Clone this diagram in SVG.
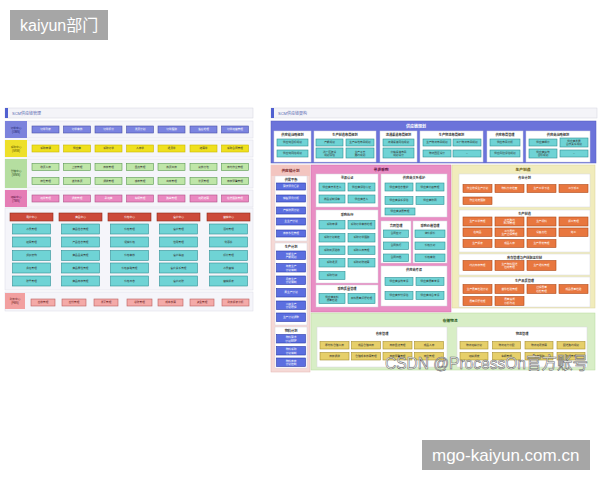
<svg xmlns="http://www.w3.org/2000/svg" width="600" height="480" viewBox="0 0 600 480">
<style>
text{font-family:"Liberation Sans","Noto Sans CJK SC",sans-serif}
.s{font-size:2.7px;text-anchor:middle;dominant-baseline:central}
.h{font-size:3.2px;font-weight:bold;text-anchor:middle;dominant-baseline:central;fill:#333}
.w{fill:#fff}.d{fill:#333}
.bg{fill:#f5f5fa;stroke:#dcdce6;stroke-width:0.5}
.bar{fill:#f4f4f8;stroke:#d4d4de;stroke-width:0.5}
.ob{fill:#7b84e0;stroke:#4a52a8;stroke-width:0.6}
.yb{fill:#efe01e;stroke:#c8b800;stroke-width:0.6}
.gb{fill:#bfe6a8;stroke:#5a9a50;stroke-width:0.6}
.pb{fill:#ea88c0;stroke:#b05088;stroke-width:0.6}
.rh{fill:#cc4a3a;stroke:#902818;stroke-width:0.6}
.tc{fill:#6fd3d5;stroke:#2f8f95;stroke-width:0.6}
.sb{fill:#f4aaa8;stroke:#b86060;stroke-width:0.6}
.bl{fill:#5b6ee0;stroke:#2b3aa8;stroke-width:0.6}
.or{fill:#e8773f;stroke:#b04a18;stroke-width:0.6}
.gd{fill:#e6cf6a;stroke:#a89030;stroke-width:0.6}
.wp{fill:#fff;stroke:#d6d6e0;stroke-width:0.5}
</style>
<rect width="600" height="480" fill="#fff"/>

<g id="hdr"><rect x="10" y="10" width="98" height="30" fill="#a6a6a6"/><text x="20" y="31" font-size="16" fill="#fff">kaiyun部门</text></g>
<g id="ftr"><rect x="422" y="440" width="168" height="30" fill="#a6a6a6"/><text x="432" y="461" font-size="17" fill="#fff">mgo-kaiyun.com.cn</text></g>

<!-- LEFT PANEL -->
<g id="left">
<rect class="bar" x="5" y="108" width="248" height="10"/><rect x="5" y="108" width="3" height="10" fill="#5060d0"/>
<text x="12" y="113" font-size="4" fill="#5866b0" dominant-baseline="central">SCM供应链管理</text>

<g id="oms">
<rect class="bg" x="5" y="121" width="248" height="17"/>
<rect x="5" y="121" width="22" height="17" fill="#7b82dc"/>
<text class="s" fill="#1a1a60"><tspan x="16" y="127.5">订单中心</tspan><tspan x="16" y="131.5">(OMS)</tspan></text>
<rect class="ob" x="32" y="126" width="27" height="7"/><text class="s w" x="45.5" y="129.5">订单列表</text>
<rect class="ob" x="63.5" y="126" width="27" height="7"/><text class="s w" x="77" y="129.5">订单审核</text>
<rect class="ob" x="95" y="126" width="27" height="7"/><text class="s w" x="108.5" y="129.5">订单拆分</text>
<rect class="ob" x="126.5" y="126" width="27" height="7"/><text class="s w" x="140" y="129.5">发货计划</text>
<rect class="ob" x="158" y="126" width="27" height="7"/><text class="s w" x="171.5" y="129.5">订单跟踪</text>
<rect class="ob" x="190" y="126" width="27" height="7"/><text class="s w" x="203.5" y="129.5">售后处理</text>
<rect class="ob" x="221.5" y="126" width="27" height="7"/><text class="s w" x="235" y="129.5">订单运营管理</text>
</g>

<g id="srm">
<rect class="bg" x="5" y="140" width="248" height="17"/>
<rect x="5" y="140" width="22" height="17" fill="#eee02a"/>
<text class="s" fill="#554d00"><tspan x="16" y="146.5">采购中心</tspan><tspan x="16" y="150.5">(SRM)</tspan></text>
<rect class="yb" x="32" y="145" width="27" height="7"/><text class="s d" x="45.5" y="148.5">采购申请</text>
<rect class="yb" x="63.5" y="145" width="27" height="7"/><text class="s d" x="77" y="148.5">供应商</text>
<rect class="yb" x="95" y="145" width="27" height="7"/><text class="s d" x="108.5" y="148.5">采购订单</text>
<rect class="yb" x="126.5" y="145" width="27" height="7"/><text class="s d" x="140" y="148.5">入库单</text>
<rect class="yb" x="158" y="145" width="27" height="7"/><text class="s d" x="171.5" y="148.5">退货单</text>
<rect class="yb" x="190" y="145" width="27" height="7"/><text class="s d" x="203.5" y="148.5">结算单</text>
<rect class="yb" x="221.5" y="145" width="27" height="7"/><text class="s d" x="235" y="148.5">采购合同管理</text>
</g>

<g id="wms">
<rect class="bg" x="5" y="159" width="248" height="29"/>
<rect x="5" y="159" width="22" height="29" fill="#b5dea0"/>
<text class="s" fill="#2a4a20"><tspan x="16" y="171">仓储中心</tspan><tspan x="16" y="175">(WMS)</tspan></text>
<rect class="gb" x="32" y="163.5" width="27" height="7"/><text class="s d" x="45.5" y="167">收货入库</text>
<rect class="gb" x="63.5" y="163.5" width="27" height="7"/><text class="s d" x="77" y="167">上架管理</text>
<rect class="gb" x="95" y="163.5" width="27" height="7"/><text class="s d" x="108.5" y="167">库存管理</text>
<rect class="gb" x="126.5" y="163.5" width="27" height="7"/><text class="s d" x="140" y="167">盘点管理</text>
<rect class="gb" x="158" y="163.5" width="27" height="7"/><text class="s d" x="171.5" y="167">拣货出库</text>
<rect class="gb" x="190" y="163.5" width="27" height="7"/><text class="s d" x="203.5" y="167">复核打包</text>
<rect class="gb" x="221.5" y="163.5" width="27" height="7"/><text class="s d" x="235" y="167">库内作业管理</text>
<rect class="gb" x="32" y="177.5" width="27" height="7"/><text class="s d" x="45.5" y="181">库位管理</text>
<rect class="gb" x="63.5" y="177.5" width="27" height="7"/><text class="s d" x="77" y="181">波次拣货</text>
<rect class="gb" x="95" y="177.5" width="27" height="7"/><text class="s d" x="108.5" y="181">调拨管理</text>
<rect class="gb" x="126.5" y="177.5" width="27" height="7"/><text class="s d" x="140" y="181">移库管理</text>
<rect class="gb" x="158" y="177.5" width="27" height="7"/><text class="s d" x="171.5" y="181">出库管理</text>
<rect class="gb" x="190" y="177.5" width="27" height="7"/><text class="s d" x="203.5" y="181">补货管理</text>
<rect class="gb" x="221.5" y="177.5" width="27" height="7"/><text class="s d" x="235" y="181">库存预警管理</text>
</g>

<g id="tms">
<rect class="bg" x="5" y="190" width="248" height="17"/>
<rect x="5" y="190" width="22" height="17" fill="#e57db5"/>
<text class="s" fill="#5a1040"><tspan x="16" y="196.5">运输中心</tspan><tspan x="16" y="200.5">(TMS)</tspan></text>
<rect class="pb" x="32" y="195" width="27" height="7"/><text class="s w" x="45.5" y="198.5">运单管理</text>
<rect class="pb" x="63.5" y="195" width="27" height="7"/><text class="s w" x="77" y="198.5">调度管理</text>
<rect class="pb" x="95" y="195" width="27" height="7"/><text class="s w" x="108.5" y="198.5">承运商</text>
<rect class="pb" x="126.5" y="195" width="27" height="7"/><text class="s w" x="140" y="198.5">车辆管理</text>
<rect class="pb" x="158" y="195" width="27" height="7"/><text class="s w" x="171.5" y="198.5">路由管理</text>
<rect class="pb" x="190" y="195" width="27" height="7"/><text class="s w" x="203.5" y="198.5">运费结算</text>
<rect class="pb" x="221.5" y="195" width="27" height="7"/><text class="s w" x="235" y="198.5">在途跟踪管理</text>
</g>

<g id="centers">
<rect class="bg" x="5" y="208" width="248" height="82"/>
<g id="c1">
<rect class="rh" x="10" y="213" width="43" height="8"/><text class="s w" x="31.5" y="217">用户中心</text>
<rect class="tc" x="12.5" y="224" width="38" height="10"/><text class="s d" x="31.5" y="229">会员管理</text>
<rect class="tc" x="12.5" y="237" width="38" height="10"/><text class="s d" x="31.5" y="242">权限管理</text>
<rect class="tc" x="12.5" y="250.5" width="38" height="10"/><text class="s d" x="31.5" y="255.5">组织架构</text>
<rect class="tc" x="12.5" y="263" width="38" height="10"/><text class="s d" x="31.5" y="268">角色管理</text>
<rect class="tc" x="12.5" y="276" width="38" height="10"/><text class="s d" x="31.5" y="281">账号管理</text>
</g>
<g id="c2">
<rect class="rh" x="59" y="213" width="43" height="8"/><text class="s w" x="80.5" y="217">商品中心</text>
<rect class="tc" x="61.5" y="224" width="38" height="10"/><text class="s d" x="80.5" y="229">商品信息管理</text>
<rect class="tc" x="61.5" y="237" width="38" height="10"/><text class="s d" x="80.5" y="242">产品信息管理</text>
<rect class="tc" x="61.5" y="250.5" width="38" height="10"/><text class="s d" x="80.5" y="255.5">商品品类管理</text>
<rect class="tc" x="61.5" y="263" width="38" height="10"/><text class="s d" x="80.5" y="268">商品属性管理</text>
<rect class="tc" x="61.5" y="276" width="38" height="10"/><text class="s d" x="80.5" y="281">商品库存管理</text>
</g>
<g id="c3">
<rect class="rh" x="108" y="213" width="43" height="8"/><text class="s w" x="129.5" y="217">价格中心</text>
<rect class="tc" x="110.5" y="224" width="38" height="10"/><text class="s d" x="129.5" y="229">价格管理</text>
<rect class="tc" x="110.5" y="237" width="38" height="10"/><text class="s d" x="129.5" y="242">促销价格</text>
<rect class="tc" x="110.5" y="250.5" width="38" height="10"/><text class="s d" x="129.5" y="255.5">价格审核</text>
<rect class="tc" x="110.5" y="263" width="38" height="10"/><text class="s d" x="129.5" y="268">价格策略管理</text>
<rect class="tc" x="110.5" y="276" width="38" height="10"/><text class="s d" x="129.5" y="281">价格日志</text>
</g>
<g id="c4">
<rect class="rh" x="157" y="213" width="43" height="8"/><text class="s w" x="178.5" y="217">客户中心</text>
<rect class="tc" x="159.5" y="224" width="38" height="10"/><text class="s d" x="178.5" y="229">客户管理</text>
<rect class="tc" x="159.5" y="237" width="38" height="10"/><text class="s d" x="178.5" y="242">信用管理</text>
<rect class="tc" x="159.5" y="250.5" width="38" height="10"/><text class="s d" x="178.5" y="255.5">客户等级</text>
<rect class="tc" x="159.5" y="263" width="38" height="10"/><text class="s d" x="178.5" y="268">客户关系管理</text>
<rect class="tc" x="159.5" y="276" width="38" height="10"/><text class="s d" x="178.5" y="281">客户对账</text>
</g>
<g id="c5">
<rect class="rh" x="207" y="213" width="43" height="8"/><text class="s w" x="228.5" y="217">营销中心</text>
<rect class="tc" x="209.5" y="224" width="38" height="10"/><text class="s d" x="228.5" y="229">活动管理</text>
<rect class="tc" x="209.5" y="237" width="38" height="10"/><text class="s d" x="228.5" y="242">优惠券</text>
<rect class="tc" x="209.5" y="250.5" width="38" height="10"/><text class="s d" x="228.5" y="255.5">积分管理</text>
<rect class="tc" x="209.5" y="263" width="38" height="10"/><text class="s d" x="228.5" y="268">会员营销</text>
<rect class="tc" x="209.5" y="276" width="38" height="10"/><text class="s d" x="228.5" y="281">营销报表</text>
</g>
</g>

<g id="fms">
<rect class="bg" x="5" y="292" width="248" height="19"/>
<rect x="5" y="293" width="20" height="16" fill="#f2a0a0"/>
<text class="s" fill="#6a2020"><tspan x="15" y="299">财务中心</tspan><tspan x="15" y="303">(FMS)</tspan></text>
<rect class="sb" x="31" y="299" width="24" height="7"/><text class="s" fill="#6a2020" x="43" y="302.5">应收管理</text>
<rect class="sb" x="62" y="299" width="24" height="7"/><text class="s" fill="#6a2020" x="74" y="302.5">应付管理</text>
<rect class="sb" x="94" y="299" width="24" height="7"/><text class="s" fill="#6a2020" x="106" y="302.5">发票管理</text>
<rect class="sb" x="127" y="299" width="25" height="7"/><text class="s" fill="#6a2020" x="139.5" y="302.5">总账管理</text>
<rect class="sb" x="158" y="299" width="25" height="7"/><text class="s" fill="#6a2020" x="170.5" y="302.5">成本核算</text>
<rect class="sb" x="190" y="299" width="24" height="7"/><text class="s" fill="#6a2020" x="202" y="302.5">资金管理</text>
<rect class="sb" x="222" y="299" width="27" height="7"/><text class="s" fill="#6a2020" x="235.5" y="302.5">财务报表分析</text>
</g>
</g>

<!-- RIGHT PANEL -->
<g id="right">
<rect class="bar" x="271" y="108" width="326" height="10"/><rect x="271" y="108" width="3" height="10" fill="#5060d0"/>
<text x="278" y="113" font-size="4" fill="#5866b0" dominant-baseline="central">SCM供应链架构</text>

<g id="plan">
<rect x="271" y="121" width="325" height="42" fill="#6b73da" stroke="#5058c0" stroke-width="0.5"/>
<text class="h w" x="416" y="126.3" style="font-size:4px">供应链规划</text>
<g id="p1">
<rect class="wp" x="274" y="131" width="37" height="31"/><text class="h" x="292.5" y="134.8">供应链战略规划</text>
<rect class="tc" x="277" y="139" width="31" height="7"/><text class="s d" x="292.5" y="142.5">供应链目标规划</text>
<rect class="tc" x="277" y="150" width="31" height="7"/><text class="s d" x="292.5" y="153.5">供应链网络规划</text>
</g>
<g id="p2">
<rect class="wp" x="314" y="131" width="62" height="31"/><text class="h" x="345" y="134.8">生产制造布局规划</text>
<rect class="tc" x="316" y="139" width="27" height="7"/><text class="s d" x="329.5" y="142.5">产能规划</text>
<rect class="tc" x="346" y="139" width="28" height="7"/><text class="s d" x="360" y="142.5">生产基地布局规划</text>
<rect class="tc" x="316" y="148" width="27" height="10"/><text class="s d"><tspan x="329.5" y="151.5">新厂区建设</tspan><tspan x="329.5" y="154.7">规划评估</tspan></text>
<rect class="tc" x="346" y="148" width="28" height="10"/><text class="s d"><tspan x="360" y="151.5">生产工艺</tspan><tspan x="360" y="154.7">路线规划</tspan></text>
</g>
<g id="p3">
<rect class="wp" x="380" y="131" width="37" height="31"/><text class="h" x="398.5" y="134.8">流通渠道布局规划</text>
<rect class="tc" x="383" y="139" width="31" height="7"/><text class="s d" x="398.5" y="142.5">流通渠道网络规划</text>
<rect class="tc" x="383" y="148" width="31" height="10"/><text class="s d"><tspan x="398.5" y="151.5">分销渠道布局</tspan><tspan x="398.5" y="154.7">规划设计</tspan></text>
</g>
<g id="p4">
<rect class="wp" x="420" y="131" width="63" height="31"/><text class="h" x="451.5" y="134.8">生产物流布局规划</text>
<rect class="tc" x="423" y="139" width="28" height="7"/><text class="s d" x="437" y="142.5">生产物流布局规划</text>
<rect class="tc" x="453" y="139" width="28" height="7"/><text class="s d" x="467" y="142.5">工厂物流布局规划</text>
<rect class="tc" x="423" y="150" width="28" height="7"/><text class="s d" x="437" y="153.5">物流园区设计</text>
<rect class="tc" x="453" y="150" width="28" height="7"/><text class="s d" x="467" y="153.5">...</text>
</g>
<g id="p5">
<rect class="wp" x="487" y="131" width="36" height="31"/><text class="h" x="505" y="134.8">供应布局管理</text>
<rect class="tc" x="490" y="139" width="30" height="7"/><text class="s d" x="505" y="142.5">供应布局分析</text>
<rect class="tc" x="490" y="150" width="30" height="7"/><text class="s d" x="505" y="153.5">供应风险评估规划</text>
</g>
<g id="p6">
<rect class="wp" x="526" y="131" width="64" height="31"/><text class="h" x="558" y="134.8">供应商战略规划</text>
<rect class="tc" x="529" y="139" width="28" height="7"/><text class="s d" x="543" y="142.5">供应商细分</text>
<rect class="tc" x="560" y="138" width="28" height="9"/><text class="s d"><tspan x="574" y="141">供应商发展</tspan><tspan x="574" y="144.2">合作关系规划</tspan></text>
<rect class="tc" x="529" y="149" width="28" height="9"/><text class="s d"><tspan x="543" y="152">供应商绩效</tspan><tspan x="543" y="155.2">目标规划</tspan></text>
<rect class="tc" x="560" y="150" width="28" height="7"/><text class="s d" x="574" y="153.5">...</text>
</g>
</g>

<g id="scp">
<rect x="271" y="165" width="39" height="207" fill="#f5d9d6" stroke="#e4b4b0" stroke-width="0.5"/>
<rect x="271" y="165" width="39" height="11" fill="#f3c5c0"/>
<text class="h" x="290.5" y="170.5" fill="#7a2a2a" style="font-size:3.6px;fill:#7a2a2a">供应链计划</text>
<g id="sop">
<rect class="wp" x="275" y="176" width="32" height="65"/><text class="h" x="291" y="180">供需平衡</text>
<rect class="bl" x="276.5" y="183" width="29" height="7"/><text class="s w" x="291" y="186.5">需求预测汇总</text>
<rect class="bl" x="276.5" y="195" width="29" height="7"/><text class="s w" x="291" y="198.5">销售预测分析</text>
<rect class="bl" x="276.5" y="207" width="29" height="7"/><text class="s w" x="291" y="210.5">产销协同计划</text>
<rect class="bl" x="276.5" y="218" width="29" height="7"/><text class="s w" x="291" y="221.5">主生产计划</text>
<rect class="bl" x="276.5" y="230" width="29" height="7"/><text class="s w" x="291" y="233.5">库存水位管理</text>
</g>
<g id="pp">
<rect class="wp" x="275" y="243" width="32" height="82"/><text class="h" x="291" y="247">生产计划</text>
<rect class="bl" x="276.5" y="251" width="29" height="8.5"/><text class="s w"><tspan x="291" y="253.8">长期生产</tspan><tspan x="291" y="257">产能规划</tspan></text>
<rect class="bl" x="276.5" y="263.5" width="29" height="8.5"/><text class="s w"><tspan x="291" y="266.3">年度生产</tspan><tspan x="291" y="269.5">计划编制</tspan></text>
<rect class="bl" x="276.5" y="276" width="29" height="8.5"/><text class="s w"><tspan x="291" y="278.8">月度生产</tspan><tspan x="291" y="282">计划编制</tspan></text>
<rect class="bl" x="276.5" y="288.5" width="29" height="8.5"/><text class="s w" x="291" y="292.75">周生产计划</text>
<rect class="bl" x="276.5" y="301" width="29" height="8.5"/><text class="s w"><tspan x="291" y="303.8">二级生产</tspan><tspan x="291" y="307">计划排程</tspan></text>
<rect class="bl" x="276.5" y="313" width="29" height="8.5"/><text class="s w" x="291" y="317.25">生产计划调整</text>
</g>
<g id="mp">
<rect class="wp" x="275" y="327" width="32" height="41"/><text class="h" x="291" y="331">物料计划</text>
<rect class="bl" x="276.5" y="334.5" width="29" height="8.5"/><text class="s w"><tspan x="291" y="337.3">物料需求</tspan><tspan x="291" y="340.5">计划MRP</tspan></text>
<rect class="bl" x="276.5" y="346.5" width="29" height="8.5"/><text class="s w"><tspan x="291" y="349.3">物料采购</tspan><tspan x="291" y="352.5">计划编制</tspan></text>
<rect class="bl" x="276.5" y="358" width="29" height="8.5"/><text class="s w"><tspan x="291" y="360.8">物料库存</tspan><tspan x="291" y="364">计划控制</tspan></text>
</g>
</g>

<g id="sourcing">
<rect x="311" y="165" width="140" height="147" fill="#e98ec4" stroke="#d06aa8" stroke-width="0.5"/>
<text class="h" x="381" y="170" style="font-size:3.8px;fill:#5a1040">寻源采购</text>
<g id="s1">
<rect class="wp" x="316" y="174" width="62" height="33"/><text class="h" x="347" y="178">寻源认证</text>
<rect class="tc" x="319" y="183" width="26" height="8"/><text class="s d" x="332" y="187">供应商开发准入</text>
<rect class="tc" x="348" y="183" width="27" height="8"/><text class="s d" x="361.5" y="187">供应商评估认证</text>
<rect class="tc" x="319" y="195" width="26" height="8"/><text class="s d" x="332" y="199">样品试制评审</text>
<rect class="tc" x="348" y="195" width="27" height="8"/><text class="s d" x="361.5" y="199">供应商准入</text>
</g>
<g id="s2">
<rect class="wp" x="381" y="174" width="66" height="43"/><text class="h" x="414" y="178">供应商关系维护</text>
<rect class="tc" x="385" y="183" width="28" height="8"/><text class="s d" x="399" y="187">供应商信息维护</text>
<rect class="tc" x="416" y="183" width="28" height="8"/><text class="s d" x="430" y="187">供应商分级管理</text>
<rect class="tc" x="385" y="196.5" width="28" height="8"/><text class="s d" x="399" y="200.5">供应商关系评估</text>
<rect class="tc" x="416" y="196.5" width="28" height="8"/><text class="s d" x="430" y="200.5">供应商协同</text>
<rect class="tc" x="385" y="208" width="30" height="7"/><text class="s d" x="400" y="211.5">供应商资质管理</text>
</g>
<g id="s3">
<rect class="wp" x="316" y="210" width="62" height="73"/><text class="h" x="347" y="214.5">采购执行</text>
<rect class="tc" x="319" y="220.5" width="26" height="8.5"/><text class="s d" x="332" y="224.75">采购申请</text>
<rect class="tc" x="348" y="220.5" width="27" height="8.5"/><text class="s d" x="361.5" y="224.75">采购订单审核处理</text>
<rect class="tc" x="319" y="233.5" width="26" height="8.5"/><text class="s d" x="332" y="237.75">采购计划制定</text>
<rect class="tc" x="348" y="233.5" width="27" height="8.5"/><text class="s d" x="361.5" y="237.75">采购订单跟踪</text>
<rect class="tc" x="319" y="246" width="26" height="8.5"/><text class="s d" x="332" y="250.25">采购到货验收</text>
<rect class="tc" x="348" y="246" width="27" height="8.5"/><text class="s d" x="361.5" y="250.25">采购入库管理</text>
<rect class="tc" x="319" y="258.5" width="26" height="8.5"/><text class="s d" x="332" y="262.75">采购退货</text>
<rect class="tc" x="348" y="258.5" width="27" height="8.5"/><text class="s d" x="361.5" y="262.75">采购对账结算</text>
<rect class="tc" x="319" y="271.5" width="26" height="8"/><text class="s d" x="332" y="275.5">采购付款</text>
</g>
<g id="s4">
<rect class="wp" x="316" y="285" width="62" height="22"/><text class="h" x="347" y="289">采购质量管理</text>
<rect class="tc" x="319" y="293.5" width="26" height="10"/><text class="s d"><tspan x="332" y="297">供应商来料</tspan><tspan x="332" y="300.2">质量检验</tspan></text>
<rect class="tc" x="348" y="293.5" width="27" height="10"/><text class="s d" x="361.5" y="298.5">来料质量问题处理</text>
</g>
<g id="s5">
<rect class="wp" x="381" y="221" width="30" height="42"/><text class="h" x="396" y="225.5">合同管理</text>
<rect class="tc" x="383.5" y="230" width="25" height="7.5"/><text class="s d" x="396" y="233.75">合同签订</text>
<rect class="tc" x="383.5" y="242" width="25" height="7.5"/><text class="s d" x="396" y="245.75">合同执行</text>
<rect class="tc" x="383.5" y="254" width="25" height="7.5"/><text class="s d" x="396" y="257.75">合同归档</text>
</g>
<g id="s6">
<rect class="wp" x="413" y="221" width="34" height="42"/><text class="h" x="430" y="225.5">采购价格管理</text>
<rect class="tc" x="415" y="230" width="30" height="7.5"/><text class="s d" x="430" y="233.75">询价报价</text>
<rect class="tc" x="415" y="242" width="30" height="7.5"/><text class="s d" x="430" y="245.75">价格比对</text>
<rect class="tc" x="415" y="254" width="30" height="7.5"/><text class="s d" x="430" y="257.75">价格审批</text>
</g>
<g id="s7">
<rect class="wp" x="381" y="266" width="66" height="40"/><text class="h" x="414" y="270">供应商考评</text>
<rect class="tc" x="385" y="277.5" width="28" height="8"/><text class="s d" x="399" y="281.5">供应商绩效考评</text>
<rect class="tc" x="416" y="277.5" width="28" height="8"/><text class="s d" x="430" y="281.5">供应商质量考评</text>
<rect class="tc" x="385" y="291.5" width="28" height="8"/><text class="s d" x="399" y="295.5">供应商交付评估</text>
<rect class="tc" x="416" y="291.5" width="28" height="8"/><text class="s d" x="430" y="295.5">供应商综合考评</text>
</g>
</g>

<g id="mfg">
<rect x="452" y="165" width="143" height="143" fill="#f1ecbc" stroke="#d9d199" stroke-width="0.5"/>
<text class="h" x="523" y="170" style="font-size:3.8px;fill:#6a5a10">生产制造</text>
<g id="m1">
<rect class="wp" x="459" y="174" width="131" height="33"/><text class="h" x="524.5" y="178">作业计划</text>
<rect class="or" x="463" y="184.5" width="29" height="8"/><text class="s w" x="477.5" y="188.5">作业排程生产计划</text>
<rect class="or" x="495" y="184.5" width="29" height="8"/><text class="s w" x="509.5" y="188.5">物料齐套检查</text>
<rect class="or" x="527" y="184.5" width="29" height="8"/><text class="s w" x="541.5" y="188.5">生产工单下达</text>
<rect class="or" x="559" y="184.5" width="29" height="8"/><text class="s w" x="573.5" y="188.5">工序派工</text>
<rect class="or" x="463" y="197" width="29" height="7.5"/><text class="s w" x="477.5" y="200.75">作业进度跟踪</text>
</g>
<g id="m2">
<rect class="wp" x="459" y="210" width="131" height="42"/><text class="h" x="524.5" y="214">生产制造</text>
<rect class="or" x="463" y="217" width="29" height="9"/><text class="s w" x="477.5" y="221.5">生产工单管理</text>
<rect class="or" x="495" y="217" width="29" height="9"/><text class="s w"><tspan x="509.5" y="219.9">工艺路线</tspan><tspan x="509.5" y="223.1">BOM管理</tspan></text>
<rect class="or" x="527" y="217" width="29" height="9"/><text class="s w" x="541.5" y="221.5">生产领料</text>
<rect class="or" x="559" y="217" width="29" height="9"/><text class="s w" x="573.5" y="221.5">报工管理</text>
<rect class="or" x="463" y="228" width="29" height="8.5"/><text class="s w" x="477.5" y="232.25">在制品</text>
<rect class="or" x="495" y="228" width="29" height="8.5"/><text class="s w"><tspan x="509.5" y="230.7">工序质检</tspan><tspan x="509.5" y="233.9">生产过程管理</tspan></text>
<rect class="or" x="527" y="228" width="29" height="8.5"/><text class="s w" x="541.5" y="232.25">设备点检</text>
<rect class="or" x="559" y="228" width="29" height="8.5"/><text class="s w" x="573.5" y="232.25">完工</text>
<rect class="or" x="463" y="239.5" width="29" height="8"/><text class="s w" x="477.5" y="243.5">生产报表</text>
<rect class="or" x="495" y="239.5" width="29" height="8"/><text class="s w" x="509.5" y="243.5">成品入库</text>
<rect class="or" x="527" y="239.5" width="29" height="8"/><text class="s w" x="541.5" y="243.5">生产异常管理</text>
</g>
<g id="m3">
<rect class="wp" x="459" y="254" width="131" height="21"/><text class="h" x="524.5" y="257.5">库存管理与产线配送控制</text>
<rect class="or" x="463" y="260.5" width="29" height="10"/><text class="s w" x="477.5" y="265.5">线边库存管理</text>
<rect class="or" x="495" y="260.5" width="29" height="10"/><text class="s w"><tspan x="509.5" y="263.9">生产物料配送</tspan><tspan x="509.5" y="267.1">拉动管理</tspan></text>
<rect class="or" x="527" y="260.5" width="29" height="10"/><text class="s w" x="541.5" y="265.5">生产退料管理</text>
</g>
<g id="m4">
<rect class="wp" x="459" y="277" width="131" height="30"/><text class="h" x="524.5" y="281">生产品质管理</text>
<rect class="or" x="463" y="284.5" width="29" height="9"/><text class="s w" x="477.5" y="289">生产质量检验计划</text>
<rect class="or" x="495" y="284.5" width="29" height="9"/><text class="s w" x="509.5" y="289">首件检验管理</text>
<rect class="or" x="527" y="284.5" width="29" height="9"/><text class="s w"><tspan x="541.5" y="287.4">过程质量</tspan><tspan x="541.5" y="290.6">巡检管理</tspan></text>
<rect class="or" x="559" y="284.5" width="29" height="9"/><text class="s w" x="573.5" y="289">成品质量检验</text>
<rect class="or" x="463" y="296.5" width="29" height="9"/><text class="s w" x="477.5" y="301">质量问题处理</text>
<rect class="or" x="495" y="296.5" width="29" height="9"/><text class="s w"><tspan x="509.5" y="299.4">质量追溯</tspan><tspan x="509.5" y="302.6">分析改进</tspan></text>
</g>
</g>

<g id="logistics">
<rect x="311" y="313" width="284" height="57" fill="#d8eec6" stroke="#b6d99c" stroke-width="0.5"/>
<text class="h" x="450" y="320.5" style="font-size:3.8px;fill:#2a5a1a">仓储物流</text>
<g id="wh">
<rect class="wp" x="317" y="327" width="130" height="40"/><text class="h" x="382" y="333.5">仓库管理</text>
<rect class="gd" x="320" y="341.5" width="29" height="7.5"/><text class="s d" x="334.5" y="345.25">原材料仓储入库</text>
<rect class="gd" x="351.5" y="341.5" width="29" height="7.5"/><text class="s d" x="366" y="345.25">成品仓储出库</text>
<rect class="gd" x="383" y="341.5" width="29" height="7.5"/><text class="s d" x="397.5" y="345.25">库存盘点管理</text>
<rect class="gd" x="414.5" y="341.5" width="29" height="7.5"/><text class="s d" x="429" y="345.25">成品入库</text>
<rect class="gd" x="320" y="352.5" width="29" height="7.5"/><text class="s d" x="334.5" y="356.25">库存调拨</text>
<rect class="gd" x="351.5" y="352.5" width="29" height="7.5"/><text class="s d" x="366" y="356.25">仓储成本核算管理</text>
<rect class="gd" x="383" y="352.5" width="29" height="7.5"/><text class="s d" x="397.5" y="356.25">库存预警管理</text>
<rect class="gd" x="414.5" y="352.5" width="29" height="7.5"/><text class="s d" x="429" y="356.25">库位管理</text>
</g>
<g id="tr">
<rect class="wp" x="457" y="327" width="130" height="40"/><text class="h" x="522" y="333.5">物流管理</text>
<rect class="gd" x="460" y="341.5" width="28" height="7.5"/><text class="s d" x="474" y="345.25">物流运输计划</text>
<rect class="gd" x="492.5" y="341.5" width="28" height="7.5"/><text class="s d" x="506.5" y="345.25">物流运力分配</text>
<rect class="gd" x="525" y="341.5" width="28" height="7.5"/><text class="s d" x="539" y="345.25">物流运费核算</text>
<rect class="gd" x="557" y="341.5" width="28" height="7.5"/><text class="s d" x="571" y="345.25">配送路线规划</text>
<rect class="gd" x="460" y="352.5" width="28" height="7.5"/><text class="s d" x="474" y="356.25">运输调度</text>
<rect class="gd" x="492.5" y="352.5" width="28" height="7.5"/><text class="s d" x="506.5" y="356.25">车辆管理</text>
<rect class="gd" x="525" y="352.5" width="28" height="7.5"/><text class="s d" x="539" y="356.25">在途跟踪</text>
<rect class="gd" x="557" y="352.5" width="28" height="7.5"/><text class="s d" x="571" y="356.25">签收管理</text>
</g>
</g>
</g>

<text x="385" y="369" font-size="17" textLength="203" lengthAdjust="spacingAndGlyphs" fill="#ffffff" fill-opacity="0.75" stroke="#6a6a6a" stroke-width="0.6">CSDN @ProcessOn官方账号</text>
</svg>
